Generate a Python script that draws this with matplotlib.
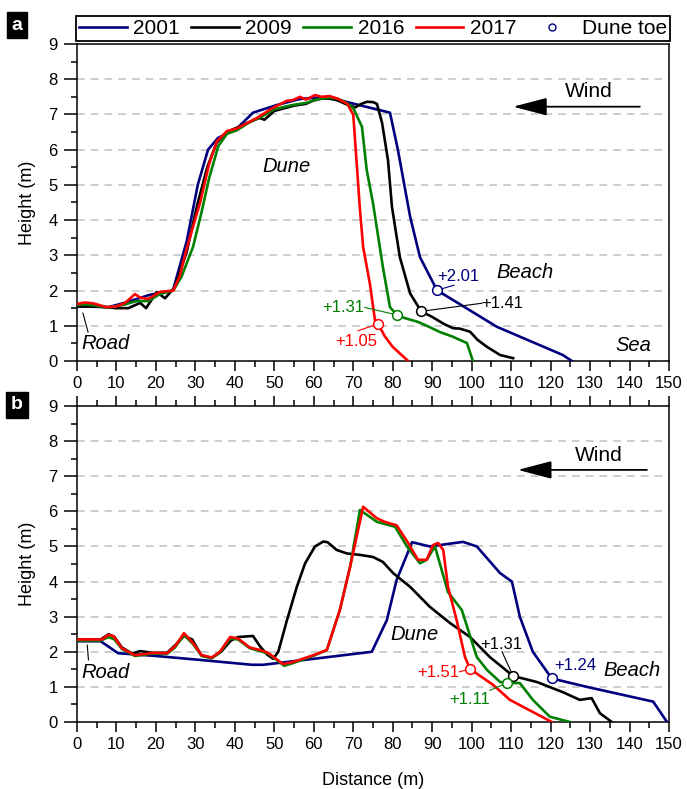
import matplotlib
matplotlib.use('Agg')
import matplotlib.pyplot as plt
from matplotlib.lines import Line2D
from matplotlib.ticker import MultipleLocator

plt.rcParams['font.family'] = ['Liberation Sans', 'DejaVu Sans']

# ---- panel a profiles ----
a01_x = [0, 8, 12, 18.5, 24.3, 27.8, 30.6, 33.2, 35.7, 40.5, 44.6, 50.7, 56.5, 63.3, 69.2, 79.3,
         81.3, 84.4, 86.9, 91.2, 106.4, 123.1, 125.4]
a01_y = [1.55, 1.53, 1.65, 1.88, 2.0, 3.4, 5.0, 6.0, 6.33, 6.6, 7.05, 7.27, 7.44, 7.5, 7.33, 7.05,
         6.0, 4.1, 2.95, 2.01, 0.97, 0.17, 0.0]

a09_x = [0, 5, 10, 13, 16, 17.5, 20.2, 22.3, 24.8, 27.8, 30.4, 33, 35.4, 38, 42, 46.2, 47.5, 50, 55,
         58, 60, 62, 64, 66, 68, 70.5, 72, 73.5, 75, 76, 77.3, 78.8, 79.8, 81.8, 84.4, 87.2, 90, 93,
         95.3, 97, 99.6, 101.5, 103.9, 107.2, 110.5]
a09_y = [1.55, 1.55, 1.5, 1.5, 1.65, 1.5, 1.96, 1.78, 2.1, 3.1, 4.4, 5.5, 6.2, 6.5, 6.7, 6.9, 6.85, 7.1,
         7.25, 7.3, 7.4, 7.45, 7.45, 7.4, 7.3, 7.2, 7.3, 7.36, 7.35, 7.3, 6.76, 5.7, 4.38, 2.95, 1.92,
         1.41, 1.25, 1.05, 0.93, 0.92, 0.83, 0.6, 0.4, 0.17, 0.08]

a16_x = [0, 3, 8, 12, 15, 18, 21, 24.4, 26.5, 29.4, 31.5, 33.5, 35.8, 38, 40.5, 44, 47, 50, 54.7,
         58.2, 60, 62, 64, 66, 68, 70, 72.2, 73.4, 75, 77.5, 79.3, 81, 83, 86.4, 89, 92, 95, 98.8, 100.3]
a16_y = [1.6, 1.6, 1.52, 1.6, 1.7, 1.7, 1.9, 2.0, 2.4, 3.24, 4.2, 5.2, 6.1, 6.45, 6.55, 6.8, 6.95,
         7.15, 7.27, 7.33, 7.4, 7.45, 7.48, 7.45, 7.35, 7.18, 6.65, 5.43, 4.48, 2.67, 1.53, 1.31, 1.22,
         1.11, 0.98, 0.82, 0.7, 0.51, 0.0]

a17_x = [0, 2, 4, 7.5, 10, 12.2, 14.7, 16, 18, 21, 24.4, 26, 27.8, 31.2, 33.5, 35.4, 38, 40.5, 43,
         45.6, 49.7, 53.2, 54.5, 56.5, 58, 60.3, 62, 64, 66, 68.5, 70, 71.7, 72.5, 74.2, 75.5, 76.3,
         78, 80, 83.9]
a17_y = [1.62, 1.66, 1.64, 1.53, 1.55, 1.65, 1.9, 1.8, 1.76, 1.96, 2.0, 2.4, 3.2, 4.5, 5.6, 6.23,
         6.53, 6.6, 6.75, 6.9, 7.19, 7.39, 7.4, 7.5, 7.42, 7.55, 7.5, 7.52, 7.45, 7.3, 6.99, 4.29,
         3.24, 2.2, 1.16, 1.05, 0.7, 0.4, 0.0]

# ---- panel b profiles ----
b01_x = [0, 6, 10.4, 20, 30, 44.3, 47.2, 60, 74.7, 78.5, 81, 84.9, 89.4, 97.8, 101.3, 107.2, 110.2,
         112.2, 115.5, 120.3, 129.2, 146, 149.5]
b01_y = [2.3, 2.3, 1.96, 1.88, 1.78, 1.63, 1.63, 1.8, 2.0, 2.9, 4.05, 5.12, 5.0, 5.13, 5.0, 4.24,
         4.0, 3.0, 2.0, 1.24, 1.0, 0.58, 0.0]

b09_x = [0, 6, 8, 9.5, 11.4, 14, 16, 19, 22.8, 25, 27.1, 29.2, 31.5, 34, 36.5, 39, 40.8, 44.6, 46.4,
         48.2, 49.7, 51, 53.2, 55.7, 57.8, 60.3, 62.4, 63.5, 65.8, 68.4, 71.7, 75, 77.5, 80.1, 84.4,
         89.4, 94.5, 99.6, 104.6, 110.5, 116.5, 123.1, 127.4, 130.4, 132.5, 135.5]
b09_y = [2.35, 2.35, 2.5, 2.42, 2.12, 1.95, 2.02, 1.97, 1.97, 2.2, 2.45, 2.35, 1.9, 1.82, 2.0, 2.32,
         2.42, 2.45, 2.15, 1.92, 1.8, 2.0, 2.9, 3.85, 4.52, 5.0, 5.14, 5.12, 4.9, 4.8, 4.76, 4.7, 4.56,
         4.24, 3.85, 3.28, 2.82, 2.42, 1.85, 1.31, 1.14, 0.85, 0.63, 0.68, 0.25, 0.0]

b16_x = [0, 6, 8, 9.5, 11.4, 14.7, 19.3, 22.8, 24.8, 27.1, 29.4, 31.6, 34.2, 36.2, 38.8, 40.8, 43.8,
         46.4, 48.4, 50.2, 52.5, 54.8, 59.8, 63.3, 66.6, 69.2, 71.7, 76, 80.6, 83.6, 86.9, 88.6, 90.7,
         94, 97.5, 101.3, 103.9, 107.2, 108.9, 112.2, 115.5, 119.8, 124.9]
b16_y = [2.32, 2.32, 2.42, 2.35, 2.08, 1.88, 1.95, 1.94, 2.12, 2.48, 2.22, 1.88, 1.82, 1.98, 2.38,
         2.35, 2.1, 2.02, 1.95, 1.8, 1.6, 1.68, 1.88, 2.05, 3.19, 4.42, 6.04, 5.7, 5.56, 5.0, 4.52,
         4.62, 5.0, 3.7, 3.19, 1.85, 1.48, 1.14, 1.11, 1.11, 0.63, 0.15, 0.0]

b17_x = [0, 6.3, 7.9, 9.2, 11.4, 14.7, 19.3, 22.8, 24.8, 27.1, 29.4, 31.6, 34.2, 36.2, 38.8, 40.8,
         43.8, 46.4, 48.4, 50.2, 52.2, 54.8, 59.8, 63.3, 66.6, 69.2, 72.5, 76, 78, 81, 83.9, 86.4, 88.6,
         90.2, 91.5, 92.8, 94, 96.2, 98.3, 99.6, 105.4, 109.7, 120.3]
b17_y = [2.35, 2.35, 2.48, 2.45, 2.1, 1.9, 1.97, 1.96, 2.15, 2.53, 2.25, 1.9, 1.84, 2.0, 2.42, 2.38,
         2.12, 2.05, 1.97, 1.82, 1.65, 1.71, 1.9, 2.05, 3.19, 4.42, 6.13, 5.8, 5.7, 5.6, 5.1, 4.62,
         4.62, 5.04, 5.1, 4.9, 3.85, 2.9, 1.85, 1.51, 1.06, 0.63, 0.0]

years = ['2001', '2009', '2016', '2017']
colors = ['#00007F', 'black', '#008000', '#FF0000']

# dune toe positions (x, y) and label text positions
toe_a = [(91.2, 2.01), (87.2, 1.41), (81.0, 1.31), (76.3, 1.05)]
toe_b = [(120.3, 1.24), (110.5, 1.31), (108.9, 1.11), (99.6, 1.51)]
lab_a = [(96.5, 2.4), (107.8, 1.62), (67.4, 1.51), (70.7, 0.54)]
lab_b = [(126.2, 1.6), (107.6, 2.22), (99.6, 0.63), (91.6, 1.4)]
# leader line ends (near text), None = no leader
lead_a = [(95.5, 2.15), (102.6, 1.64), (72.9, 1.52), (71.2, 0.86)]
lead_b = [None, (107.7, 2.0), (104.6, 0.9), (96.9, 1.43)]

fig = plt.figure(figsize=(6.87, 7.89), dpi=100)
ax_a = fig.add_axes([77 / 687, 1 - 361 / 789, 592 / 687, 317 / 789])
ax_b = fig.add_axes([77 / 687, 1 - 722 / 789, 592 / 687, 316 / 789])


def style(ax, top_ticks):
    ax.set_xlim(0, 150)
    ax.set_ylim(0, 9)
    ax.xaxis.set_major_locator(MultipleLocator(10))
    ax.xaxis.set_minor_locator(MultipleLocator(5))
    ax.yaxis.set_major_locator(MultipleLocator(1))
    ax.yaxis.set_minor_locator(MultipleLocator(0.5))
    ax.tick_params(which='both', direction='out', width=1.1, labelsize=12, top=top_ticks,
                   right=False)
    ax.tick_params(axis='x', which='major', length=7, pad=4)
    ax.tick_params(axis='y', which='major', length=9.5, pad=4.5)
    ax.tick_params(which='minor', length=4)
    for s in ax.spines.values():
        s.set_linewidth(1.1)
    for g in range(1, 9):
        ax.axhline(g, color='#c0c0c0', lw=1.1, ls=(0, (5, 4)), zorder=0)
    ax.set_ylabel('Height (m)', fontsize=13, labelpad=9)


def profiles(ax, data, toes, labs, leads):
    for (x, y), c in zip(data, colors):
        ax.plot(x, y, color=c, lw=1.9, zorder=3)
    for (tx, ty), (lx, ly), ld, c in zip(toes, labs, leads, colors):
        if ld is not None:
            ax.plot([tx, ld[0]], [ty, ld[1]], color=c, lw=0.8, zorder=4)
        ax.plot(tx, ty, 'o', ms=7, mfc='white', mec=c, mew=1.1, zorder=5)
        ax.text(lx, ly, '+%.2f' % ty, color=c, fontsize=12, ha='center', va='center', zorder=6)


def wind(ax, tip, tail, y, tx, ty):
    ax.annotate('', xy=(tip, y), xytext=(tail, y),
                arrowprops=dict(arrowstyle='-|>,head_length=2.1,head_width=0.55',
                                mutation_scale=10, color='black', lw=1.3,
                                shrinkA=0, shrinkB=0))
    ax.text(tx, ty, 'Wind', fontsize=15, ha='center', va='center')


style(ax_a, False)
style(ax_b, True)

profiles(ax_a, [(a01_x, a01_y), (a09_x, a09_y), (a16_x, a16_y), (a17_x, a17_y)],
         toe_a, lab_a, lead_a)
profiles(ax_b, [(b01_x, b01_y), (b09_x, b09_y), (b16_x, b16_y), (b17_x, b17_y)],
         toe_b, lab_b, lead_b)

it = dict(fontsize=14.5, style='italic', ha='center', va='center')
ax_a.text(53.2, 5.51, 'Dune', **it)
ax_a.text(113.5, 2.5, 'Beach', **it)
ax_a.text(141, 0.45, 'Sea', **it)
ax_a.text(1.2, 0.51, 'Road', fontsize=14.5, style='italic', ha='left', va='center')
ax_a.plot([1.5, 2.8], [1.36, 0.82], color='black', lw=0.8)
ax_b.text(85.6, 2.48, 'Dune', **it)
ax_b.text(140.5, 1.48, 'Beach', **it)
ax_b.text(1.2, 1.4, 'Road', fontsize=14.5, style='italic', ha='left', va='center')
ax_b.plot([2.6, 2.9], [2.19, 1.77], color='black', lw=0.8)

wind(ax_a, 110.5, 142.6, 7.22, 129.7, 7.64)
wind(ax_b, 111.7, 144.4, 7.18, 132.3, 7.58)

ax_b.set_xlabel('Distance (m)', fontsize=13, labelpad=14)

handles = [Line2D([], [], color=c, lw=1.9) for c in colors]
handles.append(Line2D([], [], ls='none', marker='o', ms=5, mfc='white', mec='#00007F', mew=1))
leg = fig.legend(handles, years + ['Dune toe'], loc='lower left', ncol=5, mode='expand',
                 bbox_to_anchor=(76 / 687, 1 - 41 / 789, 594 / 687, 30 / 789),
                 borderaxespad=0, fontsize=15, handlelength=2.3, handletextpad=0.3,
                 columnspacing=0.6, borderpad=0.15, fancybox=False, framealpha=1,
                 edgecolor='black')
leg.get_frame().set_linewidth(1.3)

box = dict(facecolor='black', edgecolor='black', boxstyle='square,pad=0.25')
fig.text(17 / 687, 1 - 25 / 789, 'a', color='white', fontsize=14, fontweight='bold',
         ha='center', va='center', bbox=box)
fig.text(17 / 687, 1 - 405 / 789, 'b', color='white', fontsize=14, fontweight='bold',
         ha='center', va='center', bbox=box)

fig.savefig('out.png', dpi=100)
